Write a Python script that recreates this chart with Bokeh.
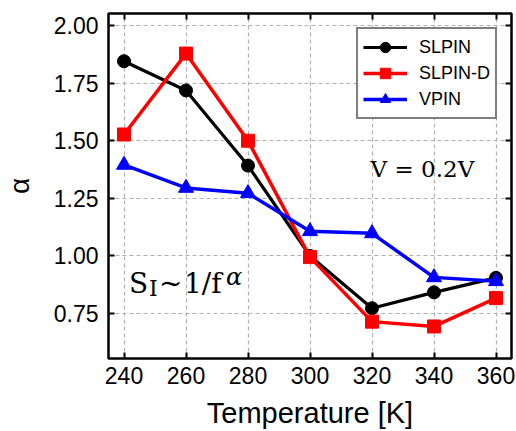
from bokeh.plotting import figure
from bokeh.models import Range1d, LinearAxis, FixedTicker, Label, Legend
from bokeh.embed import file_html
from bokeh.resources import INLINE

temperature = [240, 260, 280, 300, 320, 340, 360]
slpin = [1.845, 1.718, 1.392, 1.000, 0.773, 0.842, 0.905]
slpin_d = [1.527, 1.878, 1.500, 0.995, 0.715, 0.694, 0.817]
vpin = [1.395, 1.295, 1.272, 1.107, 1.098, 0.907, 0.890]
x_ticks = [240, 260, 280, 300, 320, 340, 360]
y_ticks = [0.75, 1.00, 1.25, 1.50, 1.75, 2.00]
y_tick_labels = {0.75: "0.75", 1.0: "1.00", 1.25: "1.25", 1.5: "1.50", 1.75: "1.75", 2.0: "2.00"}

SANS = "Liberation Sans"
SERIF = "DejaVu Serif"

p = figure(width=516, height=431, output_backend="svg", toolbar_location=None,
           x_range=Range1d(235, 365), y_range=Range1d(0.555, 2.052),
           min_border_left=103, min_border_right=5, min_border_top=13, min_border_bottom=73)
p.background_fill_color = "white"
p.border_fill_color = "white"
p.outline_line_color = "black"
p.outline_line_width = 2.5

for ax in p.xaxis:
    ax.ticker = FixedTicker(ticks=x_ticks)
for ax in p.yaxis:
    ax.ticker = FixedTicker(ticks=y_ticks)
    ax.major_label_overrides = y_tick_labels

for ax in list(p.xaxis) + list(p.yaxis):
    ax.axis_line_color = None
    ax.major_tick_in = 6
    ax.major_tick_out = 0
    ax.major_tick_line_width = 2
    ax.major_tick_line_color = "black"
    ax.minor_tick_line_color = None
    ax.major_label_text_font = SANS
    ax.major_label_text_font_size = "23px"
    ax.major_label_text_color = "black"
    ax.axis_label_text_font = SANS
    ax.axis_label_text_font_style = "normal"
    ax.axis_label_text_color = "black"

p.xaxis.axis_label = "Temperature [K]"
p.xaxis.axis_label_text_font_size = "29px"
p.xaxis.major_label_standoff = 8
p.xaxis.axis_label_standoff = 10
p.yaxis.axis_label = "α"
p.yaxis.axis_label_text_font_size = "28px"
p.yaxis.major_label_standoff = 10
p.yaxis.axis_label_standoff = 16

for loc, ticks in (("right", y_ticks), ("above", x_ticks)):
    ax = LinearAxis(ticker=FixedTicker(ticks=ticks), axis_line_color=None,
                    major_tick_in=6, major_tick_out=0, major_tick_line_width=2,
                    minor_tick_line_color=None, major_label_text_font_size="1px",
                    major_label_overrides={t: "" for t in ticks},
                    major_label_standoff=0)
    p.add_layout(ax, loc)

p.xgrid.ticker = FixedTicker(ticks=x_ticks)
p.ygrid.ticker = FixedTicker(ticks=y_ticks)
for g in (p.xgrid, p.ygrid):
    g.grid_line_color = "#b0b0b0"
    g.grid_line_dash = "4 3"
    g.grid_line_width = 1.2

series = [
    ("SLPIN", slpin, "black", "circle", 13, 3.2),
    ("SLPIN-D", slpin_d, "red", "square", 13, 3.5),
    ("VPIN", vpin, "blue", "triangle", 15, 3.5),
]
items = []
for name, vals, color, marker, size, lw in series:
    r1 = p.line(temperature, vals, line_color=color, line_width=lw)
    r2 = p.scatter(temperature, vals, marker=marker, size=size, fill_color=color, line_color=color)
    items.append((name, [r1, r2]))

legend = Legend(items=items, location="top_right")
legend.label_text_font = SANS
legend.label_text_font_size = "18px"
legend.label_text_color = "black"
legend.border_line_color = "black"
legend.border_line_width = 2.5
legend.background_fill_alpha = 1
legend.glyph_width = 44
legend.glyph_height = 26
legend.label_height = 26
legend.spacing = 0
legend.padding = 5
legend.margin = 14
legend.label_standoff = 12
p.add_layout(legend, "center")

def shift(fs):
    return 0.365 * fs

p.add_layout(Label(x=353, y=1.377, y_offset=0, text="V = 0.2V", text_font=SERIF, text_font_size="23px",
                   text_color="black", text_align="right", text_baseline="alphabetic"))

base_x, base_y = 242.6, 0.837
parts = [
    ("S", -3, 0, 28, "normal"),
    ("I", 17, -3, 22, "normal"),
    ("~", 27, 0, 28, "normal"),
    ("1/f", 52, 0, 28, "normal"),
    ("α", 94, 8, 24, "italic"),
]
for txt, dx, dy, fs, style in parts:
    p.add_layout(Label(x=base_x, y=base_y, x_offset=dx, y_offset=dy + shift(fs), text=txt, text_font=SERIF,
                       text_font_size=f"{fs}px", text_font_style=style, text_color="black",
                       text_baseline="alphabetic"))

open("out.html", "w").write(file_html(p, INLINE))
